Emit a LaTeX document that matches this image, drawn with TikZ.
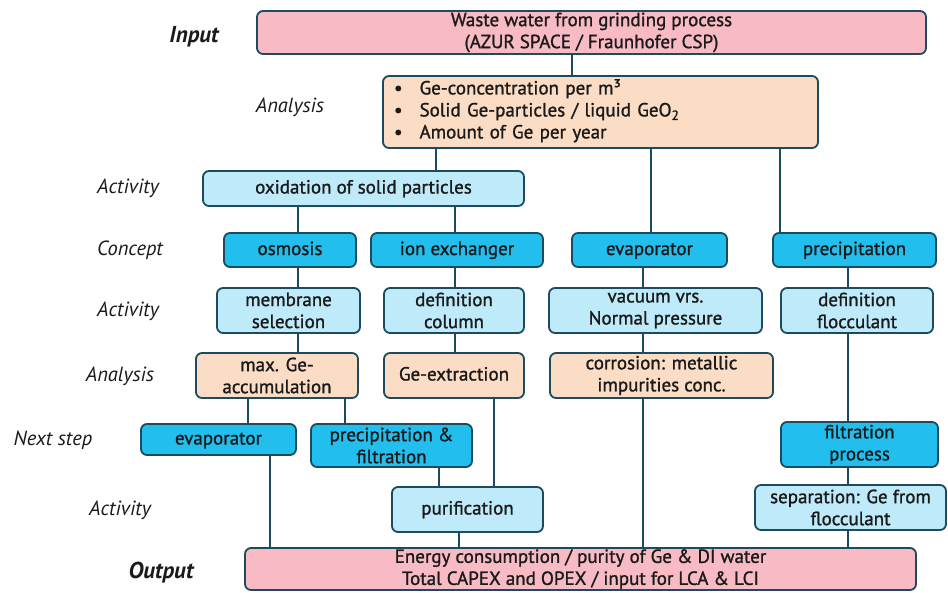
\documentclass[tikz,border=0pt]{standalone}
\usepackage{fontspec}
\setmainfont{PT Sans}
\newfontfamily\boxfont{PT Sans}[FakeBold=1.2]
\definecolor{pinkbox}{RGB}{248,187,196}
\definecolor{peachbox}{RGB}{251,220,196}
\definecolor{lightblue}{RGB}{190,234,250}
\definecolor{darkcyan}{RGB}{34,190,238}
\definecolor{edge}{RGB}{28,74,94}
\definecolor{txt}{RGB}{26,26,26}
\begin{document}
\begin{tikzpicture}[x=1pt,y=-1pt,
  every node/.style={font=\boxfont\fontsize{19}{22}\selectfont, text=txt},
  box/.style={draw=edge, line width=1.8pt, rounded corners=6pt, align=center, inner sep=1pt},
  one/.style={text height=15pt, text depth=5pt},
  ioBox/.style={box, fill=pinkbox},
  anBox/.style={box, fill=peachbox},
  actBox/.style={box, fill=lightblue},
  conBox/.style={box, fill=darkcyan},
  lbl/.style={font=\normalfont\fontsize{20.5}{22}\selectfont\itshape},
  blbl/.style={font=\normalfont\fontsize{23}{24}\selectfont\bfseries\itshape},
  conn/.style={draw=edge, line width=2.6pt}
]
\useasboundingbox (0,0) rectangle (948,592);

% row labels
\node[blbl] (lIn) at (194,37) {Input};
\node[lbl] (lAn1) at (290,107) {Analysis};
\node[lbl] (lAc1) at (128,188) {Activity};
\node[lbl] (lCo) at (130,250) {Concept};
\node[lbl] (lAc2) at (128,311) {Activity};
\node[lbl] (lAn2) at (120,376) {Analysis};
\node[lbl] (lNs) at (53,440) {Next step};
\node[lbl] (lAc3) at (120,510) {Activity};
\node[blbl] (lOut) at (161,573) {Output};

% boxes
\node[ioBox, minimum width=669pt, minimum height=43pt] (in) at (591.5,32.5)
  {Waste water from grinding process\\(AZUR SPACE / Fraunhofer CSP)};
\node[anBox, minimum width=435pt, minimum height=72pt, text width=413pt, align=left, inner xsep=11pt] (an) at (600.5,112)
  {\begin{tabular}{@{}l@{\hspace{17pt}}l@{}}
   \textbullet & Ge-concentration per m³\\[0pt]
   \textbullet & Solid Ge-particles / liquid GeO\textsubscript{2}\\[0pt]
   \textbullet & Amount of Ge per year
   \end{tabular}};
\node[actBox, one, minimum width=321pt, minimum height=35pt] (ox) at (363.5,188.5) {oxidation of solid particles};

\node[conBox, one, minimum width=132pt, minimum height=34pt] (osm) at (290,250) {osmosis};
\node[conBox, one, minimum width=172pt, minimum height=34pt] (ion) at (457,250) {ion exchanger};
\node[conBox, one, minimum width=155pt, minimum height=34pt] (evc) at (649.5,250) {evaporator};
\node[conBox, one, minimum width=163pt, minimum height=34pt] (prc) at (854.5,250) {precipitation};

\node[actBox, minimum width=143pt, minimum height=45pt] (mem) at (288.5,310.5) {membrane\\selection};
\node[actBox, minimum width=140pt, minimum height=45pt] (dcol) at (454,310.5) {definition\\column};
\node[actBox, minimum width=213pt, minimum height=45pt] (vac) at (655.5,310.5) {vacuum vrs.\\Normal pressure};
\node[actBox, minimum width=152pt, minimum height=45pt] (dfl) at (857,310.5) {definition\\flocculant};

\node[anBox, minimum width=162pt, minimum height=45pt] (mge) at (277,375.5) {max. Ge-\\accumulation};
\node[anBox, one, minimum width=140pt, minimum height=45pt] (gex) at (454,375.5) {Ge-extraction};
\node[anBox, minimum width=223pt, minimum height=45pt] (cor) at (661.5,375.5) {corrosion: metallic\\impurities conc.};

\node[conBox, one, minimum width=155pt, minimum height=31pt] (evn) at (218.5,439.5) {evaporator};
\node[conBox, minimum width=161pt, minimum height=43pt] (pf) at (391.5,445.5) {precipitation \&\\filtration};
\node[conBox, minimum width=157pt, minimum height=45pt] (fp) at (859.5,444.5) {filtration\\process};

\node[actBox, one, minimum width=151pt, minimum height=45pt] (pur) at (467.5,509.5) {purification};
\node[actBox, minimum width=191pt, minimum height=45pt] (sep) at (850.5,507.5) {separation: Ge from\\flocculant};

\node[ioBox, minimum width=671pt, minimum height=42pt] (out) at (580.5,569)
  {Energy consumption / purity of Ge \& DI water\\Total CAPEX and OPEX / input for LCA \& LCI};

% connector x positions
\coordinate (x572) at (572,0);
\coordinate (x436) at (436,0);
\coordinate (x651) at (651,0);
\coordinate (x780) at (780,0);
\coordinate (x298) at (298,0);
\coordinate (x455) at (455,0);
\coordinate (x643) at (643,0);
\coordinate (x848) at (848,0);
\coordinate (x248) at (248,0);
\coordinate (x345) at (345,0);
\coordinate (x494) at (494,0);
\coordinate (x439) at (439,0);
\coordinate (x270) at (270,0);
\coordinate (x459) at (459,0);

\draw[conn] (in.south -| x572) -- (an.north -| x572);
\draw[conn] (an.south -| x436) -- (ox.north -| x436);
\draw[conn] (an.south -| x651) -- (evc.north -| x651);
\draw[conn] (an.south -| x780) -- (prc.north -| x780);
\draw[conn] (ox.south -| x298) -- (osm.north -| x298);
\draw[conn] (ox.south -| x455) -- (ion.north -| x455);
\draw[conn] (osm.south -| x298) -- (mem.north -| x298);
\draw[conn] (ion.south -| x455) -- (dcol.north -| x455);
\draw[conn] (evc.south -| x643) -- (vac.north -| x643);
\draw[conn] (prc.south -| x848) -- (dfl.north -| x848);
\draw[conn] (mem.south -| x298) -- (mge.north -| x298);
\draw[conn] (dcol.south -| x455) -- (gex.north -| x455);
\draw[conn] (vac.south -| x643) -- (cor.north -| x643);
\draw[conn] (mge.south -| x248) -- (evn.north -| x248);
\draw[conn] (mge.south -| x345) -- (pf.north -| x345);
\draw[conn] (gex.south -| x494) -- (pur.north -| x494);
\draw[conn] (pf.south -| x439) -- (pur.north -| x439);
\draw[conn] (evn.south -| x270) -- (out.north -| x270);
\draw[conn] (pur.south -| x459) -- (out.north -| x459);
\draw[conn] (cor.south -| x643) -- (out.north -| x643);
\draw[conn] (dfl.south -| x848) -- (fp.north -| x848);
\draw[conn] (fp.south -| x848) -- (sep.north -| x848);
\draw[conn] (sep.south -| x848) -- (out.north -| x848);
\end{tikzpicture}
\end{document}
